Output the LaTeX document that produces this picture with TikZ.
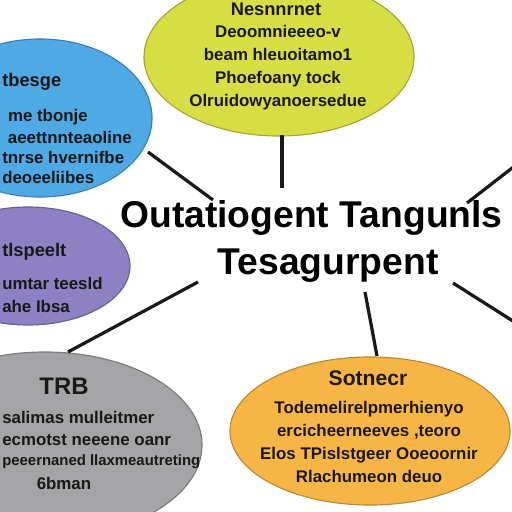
\documentclass[tikz,border=0pt]{standalone}
\usepackage{fontspec}
\setmainfont{Liberation Sans}
\usetikzlibrary{shapes.geometric}
\definecolor{limebub}{HTML}{D7DE43}
\definecolor{bluebub}{HTML}{4EA9E5}
\definecolor{purpbub}{HTML}{8D80C3}
\definecolor{graybub}{HTML}{A4A4A6}
\definecolor{orbub}{HTML}{F6B545}
\tikzset{
  bubble/.style={ellipse,draw=#1!75!black,fill=#1,line width=0.8pt,inner sep=0pt},
  txt/.style={font=\bfseries\fontsize{12}{16.4}\selectfont,text=black!90,align=center,inner sep=0pt},
  ttl/.style={font=\bfseries\fontsize{13}{15}\selectfont,text=black!90,inner sep=0pt},
  big/.style={font=\bfseries\fontsize{26.5}{30}\selectfont,inner sep=0pt},
  link/.style={line width=2.3pt,black!90}
}
\begin{document}
\begin{tikzpicture}[x=0.025cm,y=-0.025cm]
\useasboundingbox[fill=white] (0,0) rectangle (512,512);
\node[bubble=limebub,minimum width=6.75cm,minimum height=3.95cm] (yel) at (279,57) {};
\node[bubble=bluebub,minimum width=5.6cm,minimum height=3.95cm] (blu) at (40,118) {};
\node[bubble=purpbub,minimum width=5.1cm,minimum height=2.95cm] (pur) at (28,266) {};
\node[bubble=graybub,minimum width=7.85cm,minimum height=4.65cm] (gry) at (45,445) {};
\node[bubble=orbub,minimum width=7cm,minimum height=3.7cm] (ora) at (370,431) {};

\node[ttl] (yelT) at (276,9) {Nesnnrnet};
\node[txt] (yelB) at (278,68) {Deoomnieeeo-v\\beam hleuoitamo1\\Phoefoany tock\\Olruidowyanoersedue};

\node[ttl,anchor=west] (bluT) at (2,82) {tbesge};
\node[txt,anchor=east] (blu1) at (88,117) {me tbonje};
\node[txt,anchor=east] (blu2) at (132,137) {aeettnnteaoline};
\node[txt,anchor=west] (blu3) at (2,157) {tnrse hvernifbe};
\node[txt,anchor=west] (blu4) at (2,177) {deoeeliibes};

\node[ttl,anchor=west] (purT) at (2,252) {tlspeelt};
\node[txt,anchor=west] (pur1) at (2,283) {umtar teesld};
\node[txt,anchor=west] (pur2) at (2,306) {ahe Ibsa};

\node[ttl,font=\bfseries\fontsize{17}{19}\selectfont] (gryT) at (64,386) {TRB};
\node[txt,anchor=west] (gry1) at (2,417) {salimas mulleitmer};
\node[txt,anchor=west] (gry2) at (2,440) {ecmotst neeene oanr};
\node[txt,anchor=west,font=\bfseries\fontsize{10.6}{14}\selectfont] (gry3) at (2,462) {peeernaned llaxmeautreting};
\node[txt] (gry4) at (64,483) {6bman};

\node[ttl,font=\bfseries\fontsize{15}{17}\selectfont] (oraT) at (368,378) {Sotnecr};
\node[txt] (oraB) at (369,442) {Todemelirelpmerhienyo\\ercicheerneeves ,teoro\\Elos TPislstgeer Ooeoornir\\Rlachumeon deuo};

\node[big,anchor=west] (ctr1) at (120,218) {Outatiogent Tangunls};
\node[big] (ctr2) at (328,266) {Tesagurpent};

\coordinate (bluE) at (148,152);
\coordinate (bluC) at (213,200);
\coordinate (yelE) at (282,135);
\coordinate (yelC) at (282,188);
\coordinate (rtE) at (516,165);
\coordinate (rtC) at (467,203);
\coordinate (gryE) at (68,352);
\coordinate (gryC) at (198,282);
\coordinate (oraE) at (377,356);
\coordinate (oraC) at (365,292);
\coordinate (rbE) at (516,323);
\coordinate (rbC) at (453,283);
\draw[link] (bluE) -- (bluC);
\draw[link] (yelE) -- (yelC);
\draw[link] (rtC) -- (rtE);
\draw[link] (gryC) -- (gryE);
\draw[link] (oraC) -- (oraE);
\draw[link] (rbC) -- (rbE);
\end{tikzpicture}
\end{document}
